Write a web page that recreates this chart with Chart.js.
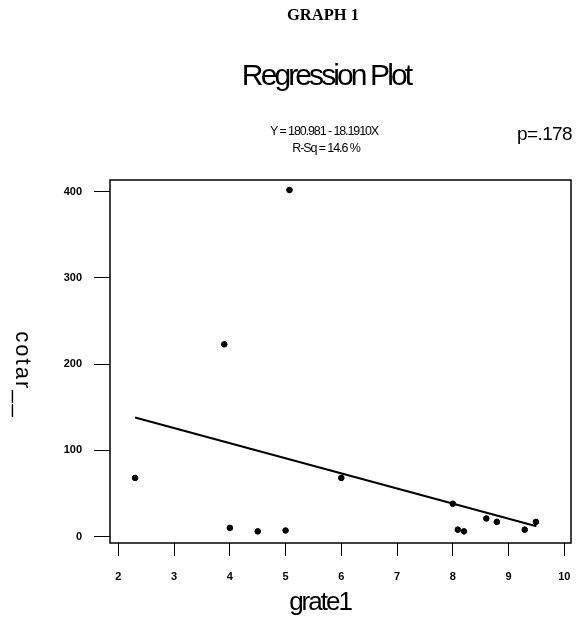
<!DOCTYPE html>
<html>
<head>
<meta charset="utf-8">
<script src="https://cdn.jsdelivr.net/npm/chart.js@4/dist/chart.umd.min.js"></script>
<style>
  html, body { margin: 0; padding: 0; background: #fff; }
  #wrap { width: 578px; height: 627px; }
</style>
</head>
<body>
<div id="wrap"><canvas id="c" width="578" height="627"></canvas></div>
<script>
// ---- data ----
const grate1 = [2.3, 3.9, 4.0, 4.5, 5.0, 5.07, 6.0, 8.0, 8.09, 8.2, 8.6, 8.79, 9.29, 9.49];
const coValues = [68, 223, 10, 6, 7, 402, 68, 38, 8, 6, 21, 17, 8, 17];
const fitX = [2.3, 9.5];
const fitY = [138, 12];
const xTicks = [2, 3, 4, 5, 6, 7, 8, 9, 10];
const yTicks = [0, 100, 200, 300, 400];
const pageTitle = "GRAPH 1";
const plotTitle = "Regression Plot";
const equation = "Y = 180.981 - 18.1910X";
const rsq = "R-Sq = 14.6 %";
const pValue = "p=.178";
const xTitle = "grate1";
const yTitle = "cotar__";

const points = grate1.map((x, i) => ({ x: x, y: coValues[i] }));
const fitLine = fitX.map((x, i) => ({ x: x, y: fitY[i] }));

const tickFont = { family: '"Liberation Sans Narrow", "Liberation Sans", Arial, sans-serif', size: 11, weight: 'bold' };

const framePlugin = {
  id: 'frame',
  afterDraw(chart) {
    const { ctx, chartArea: a } = chart;
    ctx.save();
    ctx.strokeStyle = '#000';
    ctx.lineWidth = 1.5;
    ctx.strokeRect(a.left, a.top, a.right - a.left, a.bottom - a.top);
    ctx.restore();
  }
};

const textPlugin = {
  id: 'texts',
  afterDraw(chart) {
    const ctx = chart.ctx;
    ctx.save();
    ctx.fillStyle = '#000';
    ctx.textAlign = 'center';
    ctx.textBaseline = 'alphabetic';

    ctx.font = 'bold 16.5px "Liberation Serif", "Times New Roman", serif';
    ctx.letterSpacing = '0px';
    ctx.fillText(pageTitle, 323, 20);

    ctx.font = '30px "Liberation Sans", Arial, sans-serif';
    ctx.letterSpacing = '-2.9px';
    ctx.fillText(plotTitle, 326, 85);

    ctx.font = '12.5px "Liberation Sans", Arial, sans-serif';
    ctx.letterSpacing = '-1.1px';
    ctx.fillText(equation, 324, 135);
    ctx.fillText(rsq, 326, 152);

    ctx.font = '19px "Liberation Sans", Arial, sans-serif';
    ctx.letterSpacing = '-0.6px';
    ctx.textAlign = 'left';
    ctx.fillText(pValue, 517, 140);

    ctx.textAlign = 'center';
    ctx.font = '26px "Liberation Sans", Arial, sans-serif';
    ctx.letterSpacing = '-2px';
    ctx.fillText(xTitle, 320, 610);

    ctx.font = '22px "Liberation Sans", Arial, sans-serif';
    ctx.letterSpacing = '2px';
    ctx.translate(22, 375);
    ctx.rotate(Math.PI / 2);
    ctx.textBaseline = 'middle';
    ctx.fillText(yTitle, 0, 0);
    ctx.restore();
  }
};

function noPad(s) {
  s.paddingLeft = 0; s.paddingRight = 0; s.paddingTop = 0; s.paddingBottom = 0;
}

new Chart(document.getElementById('c'), {
  type: 'scatter',
  data: {
    datasets: [
      {
        label: 'data',
        data: points,
        backgroundColor: '#000',
        borderColor: '#000',
        pointRadius: 2.8,
        pointStyle: 'circle',
        showLine: false
      },
      {
        label: 'fit',
        type: 'line',
        data: fitLine,
        borderColor: '#000',
        borderWidth: 2,
        pointRadius: 0,
        fill: false,
        tension: 0
      }
    ]
  },
  options: {
    responsive: false,
    animation: false,
    devicePixelRatio: 1,
    layout: { padding: { top: 180, right: 7, left: 0, bottom: 0 } },
    plugins: {
      legend: { display: false },
      tooltip: { enabled: false },
      title: { display: false }
    },
    scales: {
      x: {
        type: 'linear',
        min: 1.85,
        max: 10.12,
        afterBuildTicks: s => { s.ticks = xTicks.map(v => ({ value: v })); },
        afterFit: s => { s.height = 84; noPad(s); },
        border: { display: false },
        grid: { drawOnChartArea: false, drawTicks: true, tickLength: 13, color: '#000', lineWidth: 1 },
        ticks: { color: '#000', font: tickFont, padding: 14, maxRotation: 0, autoSkip: false }
      },
      y: {
        type: 'linear',
        min: -7.5,
        max: 413.6,
        afterBuildTicks: s => { s.ticks = yTicks.map(v => ({ value: v })); },
        afterFit: s => { s.width = 110; noPad(s); },
        border: { display: false },
        grid: { drawOnChartArea: false, drawTicks: true, tickLength: 16, color: '#000', lineWidth: 1 },
        ticks: { color: '#000', font: tickFont, padding: 12, autoSkip: false }
      }
    }
  },
  plugins: [framePlugin, textPlugin]
});
</script>
</body>
</html>
